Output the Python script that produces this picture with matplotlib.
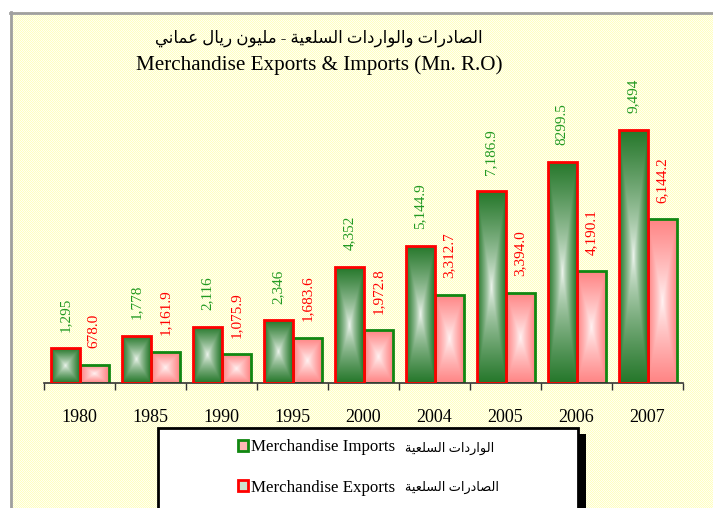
import numpy as np
import matplotlib
matplotlib.use("Agg")
import matplotlib.pyplot as plt
from matplotlib.patches import Rectangle, Patch
from matplotlib.lines import Line2D

# ---------------- data ----------------
years = ['1980', '1985', '1990', '1995', '2000', '2004', '2005', '2006', '2007']
exports = [1295, 1778, 2116, 2346, 4352, 5144.9, 7186.9, 8299.5, 9494]
imports = [678.0, 1161.9, 1075.9, 1683.6, 1972.8, 3312.7, 3394.0, 4190.1, 6144.2]
export_labels = ['1,295', '1,778', '2,116', '2,346', '4,352', '5,144.9', '7,186.9', '8299.5', '9,494']
import_labels = ['678.0', '1,161.9', '1,075.9', '1,683.6', '1,972.8', '3,312.7', '3,394.0', '4,190.1', '6,144.2']
title_ar = 'الصادرات والواردات السلعية - مليون ريال عماني'
title_en = 'Merchandise Exports & Imports (Mn. R.O)'
imports_name_en = 'Merchandise Imports'
imports_name_ar = 'الواردات السلعية'
exports_name_en = 'Merchandise Exports'
exports_name_ar = 'الصادرات السلعية'

# ------------- Arabic shaping (presentation forms, visual order) -------------
FORMS = {
    'ا': ('\uFE8D', '\uFE8E', None, None),
    'د': ('\uFEA9', '\uFEAA', None, None),
    'ر': ('\uFEAD', '\uFEAE', None, None),
    'و': ('\uFEED', '\uFEEE', None, None),
    'ة': ('\uFE93', '\uFE94', None, None),
    'ل': ('\uFEDD', '\uFEDE', '\uFEDF', '\uFEE0'),
    'ص': ('\uFEB9', '\uFEBA', '\uFEBB', '\uFEBC'),
    'ت': ('\uFE95', '\uFE96', '\uFE97', '\uFE98'),
    'ي': ('\uFEF1', '\uFEF2', '\uFEF3', '\uFEF4'),
    'ع': ('\uFEC9', '\uFECA', '\uFECB', '\uFECC'),
    'س': ('\uFEB1', '\uFEB2', '\uFEB3', '\uFEB4'),
    'م': ('\uFEE1', '\uFEE2', '\uFEE3', '\uFEE4'),
    'ن': ('\uFEE5', '\uFEE6', '\uFEE7', '\uFEE8'),
}


def shape_ar(s):
    out = []
    n = len(s)
    for i, ch in enumerate(s):
        if ch not in FORMS:
            out.append(ch)
            continue
        prev = s[i - 1] if i > 0 else ''
        nxt = s[i + 1] if i < n - 1 else ''
        pj = prev in FORMS and FORMS[prev][2] is not None
        nj = FORMS[ch][2] is not None and nxt in FORMS
        f = FORMS[ch]
        if pj and nj:
            out.append(f[3])
        elif pj:
            out.append(f[1])
        elif nj:
            out.append(f[2])
        else:
            out.append(f[0])
    return ''.join(out)[::-1]


# ---------------- figure ----------------
W, H = 713, 508
DPI = 100
fig = plt.figure(figsize=(W / DPI, H / DPI), dpi=DPI, facecolor='white')

# textured pale-yellow background inside a grey frame
yy, xx = np.mgrid[0:H, 0:W]
bg = np.ones((H, W, 3))
chk = (xx + yy) % 2 == 0
bg[chk] = (1.0, 1.0, 0.76)
bg[~chk] = (1.0, 1.0, 0.95)
bg[:12, :] = 1.0
bg[:, :10] = 1.0
fig.figimage(bg, xo=0, yo=0, origin='upper', zorder=-10)
fig.add_artist(Line2D([10.5 / W, 10.5 / W], [0, 1 - 12 / H], transform=fig.transFigure,
                      color='#A0A0A0', lw=2, zorder=-5))
fig.add_artist(Line2D([10 / W, 1], [1 - 12.5 / H, 1 - 12.5 / H], transform=fig.transFigure,
                      color='#A0A0A0', lw=2, zorder=-5))

serif = ['Liberation Serif', 'DejaVu Sans']

ax = fig.add_axes([44 / W, 1 - 383 / H, 639 / W, 283 / H])
ax.set_facecolor('none')
ax.set_zorder(1)

x = np.arange(len(years))
bw = 29 / 71


def gradient_fill(ax, rect, center, edge, power=1.0):
    x0, y0 = rect.get_x(), rect.get_y()
    w, h = rect.get_width(), rect.get_height()
    u = np.linspace(-1, 1, 40)
    v = np.linspace(-1, 1, 80)
    U, V = np.meshgrid(u, v)
    t = np.maximum(np.abs(U), np.abs(V)) ** power
    c = np.array(center)[None, None, :] + (np.array(edge) - np.array(center))[None, None, :] * t[..., None]
    im = ax.imshow(c, extent=[x0, x0 + w, y0, y0 + h], aspect='auto',
                   interpolation='bilinear', zorder=rect.get_zorder() - 0.1, origin='lower')
    im.set_clip_path(rect)


bars_imp = ax.bar(x + bw / 2, imports, width=bw, facecolor='none', edgecolor='#118811',
                  linewidth=2, zorder=2)
bars_exp = ax.bar(x - bw / 2, exports, width=bw, facecolor='none', edgecolor='#FF0000',
                  linewidth=2, zorder=3)

for r in bars_imp:
    gradient_fill(ax, r, (1.0, 0.96, 0.96), (1.0, 0.52, 0.52), 0.85)
for r in bars_exp:
    gradient_fill(ax, r, (0.96, 0.98, 0.96), (0.15, 0.47, 0.17), 0.75)

for xi, val, lab in zip(x - bw / 2, exports, export_labels):
    ax.annotate(lab, xy=(xi, val), xytext=(0, 12), textcoords='offset points',
                rotation=90, ha='center', va='bottom', color='#229922',
                fontsize=11, family=serif)
for xi, val, lab in zip(x + bw / 2, imports, import_labels):
    ax.annotate(lab, xy=(xi, val), xytext=(0, 12), textcoords='offset points',
                rotation=90, ha='center', va='bottom', color='#FF0000',
                fontsize=11, family=serif)

ax.set_xlim(-0.5, len(years) - 0.5)
ax.set_ylim(0, 283 / 26.65 * 1000)
ax.set_xticks(x)
ax.set_xticklabels(years, fontsize=13, family=serif)
ax.set_xticks(np.arange(len(years) + 1) - 0.5, minor=True)
ax.tick_params(axis='x', which='major', length=0, pad=19)
ax.tick_params(axis='x', which='minor', length=5, width=1, direction='out', color='#333333')
ax.set_yticks([])
for s in ['left', 'right', 'top']:
    ax.spines[s].set_visible(False)
ax.spines['bottom'].set_color('#333333')
ax.spines['bottom'].set_linewidth(1.2)

# titles
fig.text(319 / W, 1 - 38 / H, shape_ar(title_ar), ha='center', va='center',
         fontsize=12, family=serif)
fig.text(319 / W, 1 - 65 / H, title_en, ha='center', va='center',
         fontsize=15.2, family=serif)

# legend box with shadow
fig.add_artist(Rectangle((166 / W, 1 - 518 / H), 420 / W, 84 / H, transform=fig.transFigure,
                         facecolor='black', edgecolor='none', zorder=4, clip_on=False))
fig.add_artist(Rectangle((158 / W, 1 - 512 / H), 420 / W, 84 / H, transform=fig.transFigure,
                         facecolor='white', edgecolor='black', lw=2, zorder=5, clip_on=False))
handles = [Patch(facecolor='#FFB8B8', edgecolor='#118811', lw=2),
           Patch(facecolor='#CFE3CF', edgecolor='#FF0000', lw=2)]
labels = [imports_name_en, exports_name_en]
leg = fig.legend(handles, labels, loc='center left', bbox_to_anchor=(238 / W, 1 - 467.5 / H),
                 bbox_transform=fig.transFigure, frameon=False, borderpad=0, borderaxespad=0,
                 prop={'family': serif, 'size': 12.2}, handlelength=0.6, handleheight=0.6,
                 handletextpad=0.15, labelspacing=1.45)
leg.set_zorder(6)
fig.text(405 / W, 1 - 448 / H, shape_ar(imports_name_ar), ha='left', va='center',
         fontsize=9.3, family=serif, zorder=6)
fig.text(405 / W, 1 - 487 / H, shape_ar(exports_name_ar), ha='left', va='center',
         fontsize=9.3, family=serif, zorder=6)

fig.savefig('out.png', dpi=DPI)
